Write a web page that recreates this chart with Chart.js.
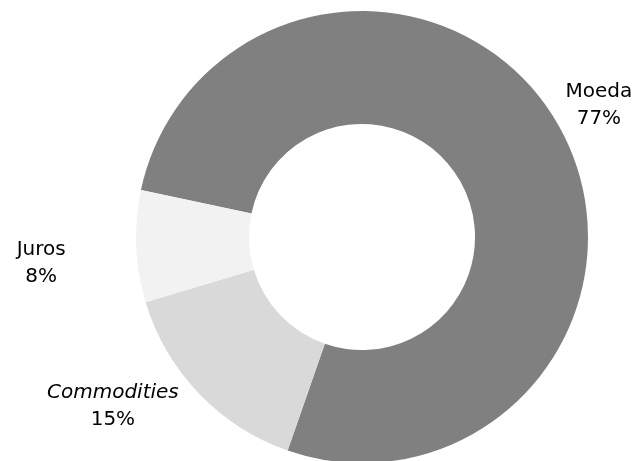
<!DOCTYPE html>
<html>
<head>
<meta charset="utf-8">
<script src="https://cdn.jsdelivr.net/npm/chart.js@4/dist/chart.umd.min.js"></script>
<style>
  html, body { margin: 0; padding: 0; background: #fff; overflow: hidden; }
  #wrap { width: 637px; height: 463px; }
</style>
</head>
<body>
<div id="wrap"><canvas id="myChart"></canvas></div>
<script>
// categorias e participacao (%)
var categorias = ['Moeda', 'Commodities', 'Juros'];
var valores = [77, 15, 8];
var cores = ['#808080', '#d9d9d9', '#f2f2f2'];

// deslocamento do rotulo a partir da borda externa, no meio da fatia
var deslocX = [40, -86, -95];
var deslocY = [-21, 12, 16];

var rotulos = {
    id: 'rotulos',
    afterDraw: function (chart) {
        var ctx = chart.ctx;
        var meta = chart.getDatasetMeta(0);
        var total = valores.reduce(function (a, b) { return a + b; }, 0);
        var fonte = '20px "DejaVu Sans", Verdana, sans-serif';
        ctx.save();
        ctx.fillStyle = '#000';
        ctx.textAlign = 'center';
        ctx.textBaseline = 'middle';
        for (var i = 0; i < meta.data.length; i++) {
            var p = meta.data[i].getProps(['x', 'y', 'startAngle', 'endAngle', 'outerRadius'], true);
            var meio = (p.startAngle + p.endAngle) / 2;
            var x = p.x + Math.cos(meio) * p.outerRadius + deslocX[i];
            var y = p.y + Math.sin(meio) * p.outerRadius + deslocY[i];
            var pct = Math.round(valores[i] / total * 100) + '%';
            ctx.font = (categorias[i] == 'Commodities' ? 'italic ' : '') + fonte;
            ctx.fillText(categorias[i], x, y - 13);
            ctx.font = fonte;
            ctx.fillText(pct, x, y + 14);
        }
        ctx.restore();
    }
};

var ctx = document.getElementById('myChart').getContext('2d');
var grafico = new Chart(ctx, {
    type: 'doughnut',
    data: {
        labels: categorias,
        datasets: [{
            data: valores,
            backgroundColor: cores,
            borderWidth: 0
        }]
    },
    options: {
        responsive: true,
        maintainAspectRatio: false,
        animation: false,
        rotation: -78,
        cutout: '50%',
        layout: {
            padding: { top: 11, bottom: 0, left: 136, right: 49 }
        },
        plugins: {
            legend: { display: false },
            tooltip: { enabled: false }
        }
    },
    plugins: [rotulos]
});
</script>
</body>
</html>
